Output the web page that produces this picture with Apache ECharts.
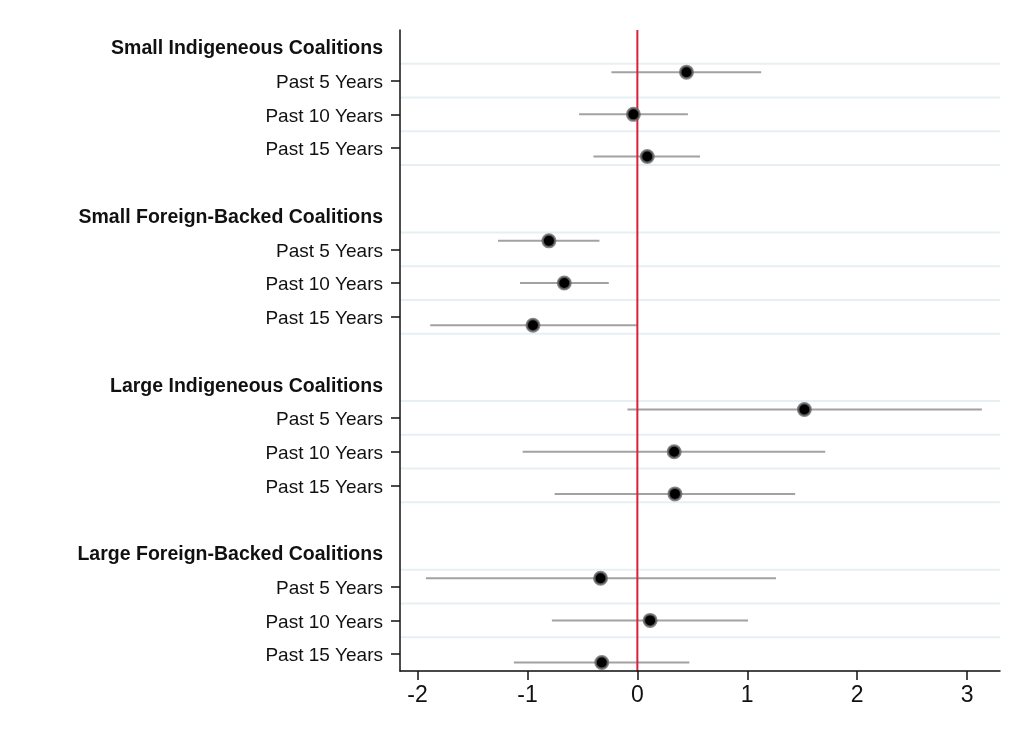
<!DOCTYPE html>
<html>
<head>
<meta charset="utf-8">
<script src="https://cdn.jsdelivr.net/npm/echarts@6/dist/echarts.min.js"></script>
<style>
html,body{margin:0;padding:0;background:#fff;}
#chart{width:1013px;height:743px;}
</style>
</head>
<body>
<div id="chart"></div>
<script>
// ---- Data ----
const groups = ['Small Indigeneous Coalitions', 'Small Foreign-Backed Coalitions', 'Large Indigeneous Coalitions', 'Large Foreign-Backed Coalitions'];
const periods = ['Past 5 Years', 'Past 10 Years', 'Past 15 Years'];

const smallIndigEst = [0.447, -0.036, 0.09];
const smallIndigLo  = [-0.236, -0.53, -0.40];
const smallIndigHi  = [1.127, 0.46, 0.57];

const smallForeignEst = [-0.805, -0.665, -0.95];
const smallForeignLo  = [-1.268, -1.068, -1.885];
const smallForeignHi  = [-0.345, -0.26, -0.005];

const largeIndigEst = [1.52, 0.335, 0.342];
const largeIndigLo  = [-0.09, -1.044, -0.753];
const largeIndigHi  = [3.135, 1.71, 1.436];

const largeForeignEst = [-0.335, 0.116, -0.324];
const largeForeignLo  = [-1.924, -0.778, -1.124];
const largeForeignHi  = [1.262, 1.007, 0.473];

const xTicks = [-2, -1, 0, 1, 2, 3];
const refValue = 0;

// ---- Build ----
const estimates = [smallIndigEst, smallForeignEst, largeIndigEst, largeForeignEst];
const lows = [smallIndigLo, smallForeignLo, largeIndigLo, largeForeignLo];
const highs = [smallIndigHi, smallForeignHi, largeIndigHi, largeForeignHi];

const slotsPerGroup = periods.length + 2;   // header + rows + blank
const pointShift = [-0.25, 0, 0.25];        // vertical spread of markers within a group

const labelMap = {};
const labelSlots = [];
const tickSlots = [];
const gridSlots = [];
const points = [];
const bars = [];

groups.forEach((g, gi) => {
  const base = gi * slotsPerGroup;
  labelMap[base] = '{h|' + g + '}';
  labelSlots.push(base);
  gridSlots.push(base + 0.5);
  periods.forEach((p, pi) => {
    const slot = base + 1 + pi;
    labelMap[slot] = '{n|' + p + '}';
    labelSlots.push(slot);
    tickSlots.push(slot);
    gridSlots.push(slot + 0.5);
    const y = slot + pointShift[pi];
    points.push([estimates[gi][pi], y]);
    bars.push([lows[gi][pi], highs[gi][pi], y]);
  });
});
const yMax = (groups.length - 1) * slotsPerGroup + periods.length + 0.5;

const FONT = '"Liberation Sans", Arial, Helvetica, sans-serif';

const chart = echarts.init(document.getElementById('chart'), null, {renderer: 'canvas'});
chart.setOption({
  backgroundColor: '#ffffff',
  animation: false,
  grid: {left: 400, right: 13, top: 30, bottom: 72, containLabel: false},
  xAxis: {
    type: 'value',
    z: 10,
    min: -2.16,
    max: 3.30,
    axisLine: {show: true, onZero: false, lineStyle: {color: '#111', width: 1.5}},
    axisTick: {show: true, customValues: xTicks, length: 9, lineStyle: {color: '#111', width: 1.5}},
    axisLabel: {customValues: xTicks, fontSize: 23, color: '#111', fontFamily: FONT, margin: 13},
    splitLine: {show: false}
  },
  yAxis: {
    type: 'value',
    z: 10,
    inverse: true,
    min: -0.5,
    max: yMax,
    axisLine: {show: true, onZero: false, lineStyle: {color: '#111', width: 1.5}},
    axisTick: {show: true, customValues: tickSlots, length: 9, lineStyle: {color: '#111', width: 1.5}},
    axisLabel: {
      customValues: labelSlots,
      formatter: v => labelMap[v] || '',
      fontSize: 19,
      color: '#111',
      fontFamily: FONT,
      margin: 17,
      rich: {
        h: {fontWeight: 'bold', fontSize: 19.5, color: '#111', fontFamily: FONT, padding: [4, 0, 0, 0]},
        n: {fontSize: 19, color: '#111', fontFamily: FONT, padding: [4, 0, 0, 0]}
      }
    },
    splitLine: {show: false}
  },
  series: [
    {
      type: 'custom',
      name: 'grid',
      z: 1,
      silent: true,
      data: gridSlots.map(s => [0, s]),
      encode: {x: 0, y: 1},
      renderItem: (params, api) => {
        const c = api.coord([0, api.value(1)]);
        const cs = params.coordSys;
        return {type: 'line', shape: {x1: cs.x, y1: c[1], x2: cs.x + cs.width, y2: c[1]},
                style: {stroke: '#e6f0f2', lineWidth: 2}};
      }
    },
    {
      type: 'custom',
      name: 'ci',
      z: 2,
      silent: true,
      data: bars,
      encode: {x: [0, 1], y: 2},
      renderItem: (params, api) => {
        const y = api.value(2);
        const a = api.coord([api.value(0), y]);
        const b = api.coord([api.value(1), y]);
        return {type: 'line', shape: {x1: a[0], y1: a[1], x2: b[0], y2: b[1]},
                style: {stroke: '#a2a2a2', lineWidth: 2}};
      }
    },
    {
      type: 'custom',
      name: 'ref',
      z: 3,
      silent: true,
      data: [[refValue, 0]],
      encode: {x: 0, y: 1},
      renderItem: (params, api) => {
        const c = api.coord([api.value(0), 0]);
        const cs = params.coordSys;
        return {type: 'line', shape: {x1: c[0], y1: cs.y, x2: c[0], y2: cs.y + cs.height},
                style: {stroke: '#d8213b', lineWidth: 2}};
      }
    },
    {
      type: 'scatter',
      name: 'est',
      z: 4,
      data: points,
      symbol: 'circle',
      symbolSize: 12.5,
      itemStyle: {color: '#000', borderColor: 'rgba(105,105,105,0.8)', borderWidth: 2.5, opacity: 1}
    }
  ]
});
</script>
</body>
</html>
